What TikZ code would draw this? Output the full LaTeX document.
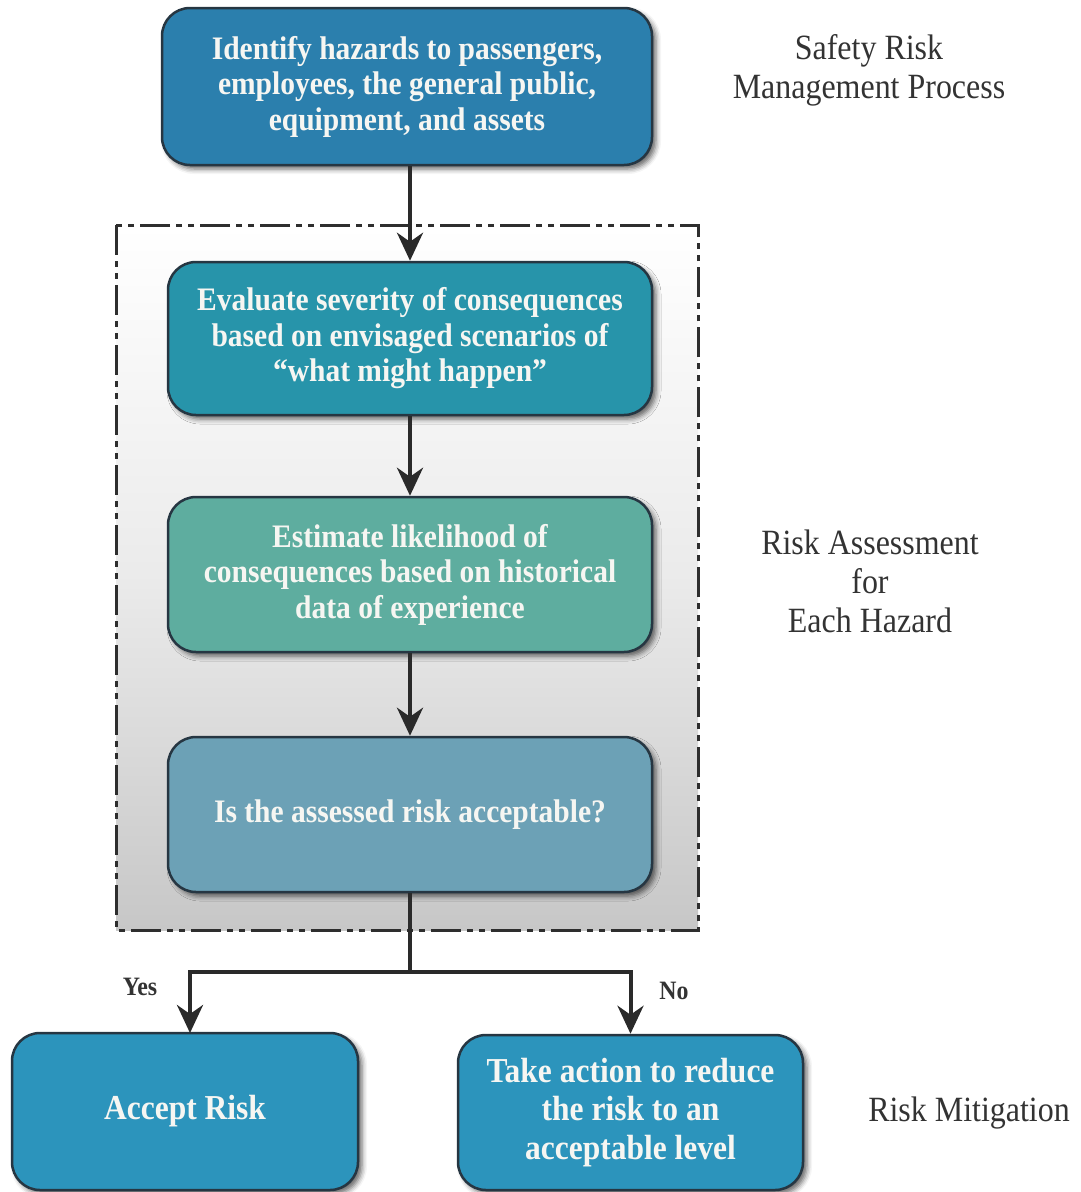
\documentclass[tikz,border=0pt]{standalone}
\usepackage{fontspec}
\setmainfont{Liberation Serif}[FakeStretch=0.9]
\usetikzlibrary{arrows.meta,shadows.blur}

\definecolor{boxline}{HTML}{263642}
\definecolor{cTop}{HTML}{2B7FAD}
\definecolor{cSev}{HTML}{2794AA}
\definecolor{cLik}{HTML}{5EAD9F}
\definecolor{cAcc}{HTML}{6CA1B6}
\definecolor{cOut}{HTML}{2C94BC}
\definecolor{wire}{HTML}{2A2A2A}
\definecolor{frame}{HTML}{2E2E2E}
\definecolor{labeltext}{HTML}{333333}
\definecolor{boxtext}{HTML}{F6F6F2}

\begin{document}
\begin{tikzpicture}[x=1pt,y=1pt,
  stepbox/.style={draw=boxline, line width=2.5pt, rounded corners=28pt,
    text=boxtext, align=center, inner sep=0pt,
    font=\fontsize{32.8}{35.5}\selectfont\bfseries,
    blur shadow={shadow xshift=4pt, shadow yshift=-4pt,
      shadow blur radius=5pt, shadow opacity=60}},
  outbox/.style={stepbox, fill=cOut, font=\fontsize{35}{38.5}\selectfont\bfseries},
  sidelabel/.style={text=labeltext, align=center,
    font=\fontsize{35.5}{39}\selectfont},
  branchlabel/.style={text=labeltext, font=\fontsize{26.5}{28}\selectfont\bfseries},
  flow/.style={draw=wire, line width=4pt,
    -{Stealth[length=28pt, width=26pt, inset=9pt]}},
  wireline/.style={draw=wire, line width=4pt},
  dashframe/.style={draw=frame, line width=3pt,
    dash pattern=on 30pt off 6pt on 6pt off 6pt on 6pt off 6pt,
    top color=white, bottom color=black!22, middle color=black!8}
]
\useasboundingbox (0,0) rectangle (1080,-1192);

% assessment frame
\path[dashframe] (116,-225) rectangle (698,-930);

% process steps
\node[stepbox, fill=cTop, minimum width=490pt, minimum height=157pt] (ident) at (407,-86.5)
  {Identify hazards to passengers,\\employees, the general public,\\equipment, and assets};
\node[stepbox, fill=cSev, minimum width=484pt, minimum height=153pt] (sev) at (410,-338.5)
  {Evaluate severity of consequences\\based on envisaged scenarios of\\``what might happen''};
\node[stepbox, fill=cLik, minimum width=484pt, minimum height=155pt] (lik) at (410,-574.5)
  {Estimate likelihood of\\consequences based on historical\\data of experience};
\node[stepbox, fill=cAcc, minimum width=484pt, minimum height=155pt] (acc) at (410,-814.5)
  {Is the assessed risk acceptable?};
\node[outbox, minimum width=346pt, minimum height=157pt] (accept) at (185,-1111.5)
  {Accept Risk};
\node[outbox, minimum width=345pt, minimum height=155pt] (reduce) at (630.5,-1112.5)
  {Take action to reduce\\the risk to an\\acceptable level};

% connectors
\draw[flow] (ident.south -| sev.north) -- (sev.north);
\draw[flow] (sev.south) -- (lik.north);
\draw[flow] (lik.south) -- (acc.north);
\coordinate (split) at (410,-972);
\coordinate (yesdrop) at (190,-1033);
\draw[wireline] (acc.south) -- (split);
\draw[flow] (split) -| (yesdrop);
\draw[flow] (split) -| (reduce.north);

\node[branchlabel] (yes) at (140,-987) {Yes};
\node[branchlabel] (no) at (674,-991) {No};

% stage labels
\node[sidelabel] (lblsrm) at (869,-70) {Safety Risk\\Management Process};
\node[sidelabel] (lblra) at (870,-581) {Risk Assessment\\for\\Each Hazard};
\node[sidelabel] (lblrm) at (969,-1113) {Risk Mitigation};
\end{tikzpicture}
\end{document}
